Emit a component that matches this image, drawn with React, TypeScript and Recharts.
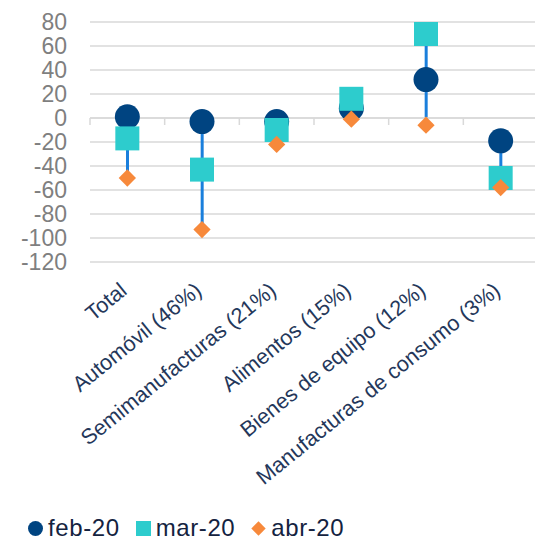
import React from "react";
import {
  Bar,
  CartesianGrid,
  ComposedChart,
  Legend,
  Line,
  ReferenceLine,
  XAxis,
  YAxis,
} from "recharts";

// Monthly change by export sector, three months per category
const categories = [
  "Total",
  "Automóvil (46%)",
  "Semimanufacturas (21%)",
  "Alimentos (15%)",
  "Bienes de equipo (12%)",
  "Manufacturas de consumo (3%)",
];
const feb20 = [1, -3, -3, 8, 32, -19];
const mar20 = [-17, -43, -10, 16, 70, -50];
const abr20 = [-50, -93, -22, -1, -6, -58];
const yTicks = [80, 60, 40, 20, 0, -20, -40, -60, -80, -100, -120];
const seriesOrder = ["feb", "mar", "abr"];

const NAVY = "#004481";
const TEAL = "#2dcccd";
const ORANGE = "#f7893b";
const HILO = "#1a7fdc";
const GRID = "#d9d9d9";
const FONT = "'Liberation Sans', Arial, sans-serif";

const data = categories.map((name, i) => {
  const vals = [feb20[i], mar20[i], abr20[i]];
  return {
    name,
    feb: feb20[i],
    mar: mar20[i],
    abr: abr20[i],
    range: [Math.min(...vals), Math.max(...vals)],
  };
});

function Marker({ kind, cx, cy, size }: { kind: string; cx: number; cy: number; size: number }) {
  const h = size / 2;
  if (kind === "feb") return <circle cx={cx} cy={cy} r={h} fill={NAVY} />;
  if (kind === "mar") return <rect x={cx - h} y={cy - h} width={size} height={size} fill={TEAL} />;
  const d = h * 0.72;
  return (
    <path
      d={`M${cx},${cy - d}L${cx + d},${cy}L${cx},${cy + d}L${cx - d},${cy}Z`}
      fill={ORANGE}
    />
  );
}

const dotFor = (kind: string, size: number) => (p: any) =>
  p.cx == null || p.cy == null ? (
    <g key={`${kind}-${p.index}`} />
  ) : (
    <Marker key={`${kind}-${p.index}`} kind={kind} cx={p.cx} cy={p.cy} size={size} />
  );

function CategoryTick({ x, y, payload }: any) {
  return (
    <g transform={`translate(${x + 1},${y + 31})`}>
      <text
        x={0}
        y={0}
        textAnchor="end"
        transform="rotate(-39)"
        fill="#24375a"
        fontSize={21.6}
        fontFamily={FONT}
      >
        {payload.value}
      </text>
    </g>
  );
}

// zero line with the category boundary ticks hanging below it
function ZeroAxis(props: any) {
  const { x1, x2, y1 } = props;
  const step = (x2 - x1) / categories.length;
  return (
    <g>
      <line x1={x1} x2={x2} y1={y1} y2={y1} stroke={GRID} strokeWidth={1.5} />
      {categories.map((_, i) => (
        <line
          key={i}
          x1={x1 + i * step}
          x2={x1 + i * step}
          y1={y1}
          y2={y1 + 7}
          stroke={GRID}
          strokeWidth={1.5}
        />
      ))}
    </g>
  );
}

function LegendContent({ payload }: any) {
  const items = (payload || [])
    .filter((e: any) => seriesOrder.includes(e.dataKey))
    .sort((a: any, b: any) => seriesOrder.indexOf(a.dataKey) - seriesOrder.indexOf(b.dataKey));
  return (
    <div
      style={{
        display: "flex",
        alignItems: "center",
        paddingLeft: 28,
        paddingTop: 4,
        height: 26,
        lineHeight: "26px",
        fontSize: 24,
        letterSpacing: 0.6,
        fontFamily: FONT,
        color: "#14233f",
      }}
    >
      {items.map((e: any) => (
        <span key={e.dataKey} style={{ display: "flex", alignItems: "center", marginRight: 16 }}>
          <svg width={15} height={15} style={{ marginRight: 5 }}>
            <Marker kind={e.dataKey} cx={7.5} cy={7.5} size={e.dataKey === "abr" ? 20 : 15} />
          </svg>
          <span>{e.value}</span>
        </span>
      ))}
    </div>
  );
}

export default function App() {
  return (
    <div
      style={{
        position: "absolute",
        left: 0,
        top: 0,
        width: 535,
        height: 541,
        overflow: "hidden",
        background: "#fff",
      }}
    >
      <ComposedChart
        width={540}
        height={541}
        data={data}
        margin={{ top: 22, right: 2, bottom: 0, left: 0 }}
      >
        <CartesianGrid vertical={false} stroke={GRID} strokeWidth={1.5} />
        <XAxis
          dataKey="name"
          axisLine={false}
          tickLine={false}
          tickSize={0}
          tickMargin={0}
          height={249}
          interval={0}
          tick={<CategoryTick />}
        />
        <YAxis
          domain={[-120, 80]}
          ticks={yTicks}
          interval={0}
          axisLine={false}
          tickLine={false}
          tickSize={0}
          tickMargin={23}
          width={90}
          tick={{ fill: "#7f7f7f", fontSize: 23, fontFamily: FONT }}
        />
        <ReferenceLine y={0} shape={<ZeroAxis />} />
        <Bar dataKey="range" fill={HILO} barSize={3} legendType="none" isAnimationActive={false} />
        <Line
          dataKey="feb"
          name="feb-20"
          stroke="none"
          dot={dotFor("feb", 25)}
          activeDot={false}
          isAnimationActive={false}
        />
        <Line
          dataKey="mar"
          name="mar-20"
          stroke="none"
          dot={dotFor("mar", 24)}
          activeDot={false}
          isAnimationActive={false}
        />
        <Line
          dataKey="abr"
          name="abr-20"
          stroke="none"
          dot={dotFor("abr", 24)}
          activeDot={false}
          isAnimationActive={false}
        />
        <Legend
          verticalAlign="bottom"
          align="left"
          height={30}
          wrapperStyle={{ left: 0, width: 535 }}
          content={<LegendContent />}
        />
      </ComposedChart>
    </div>
  );
}
